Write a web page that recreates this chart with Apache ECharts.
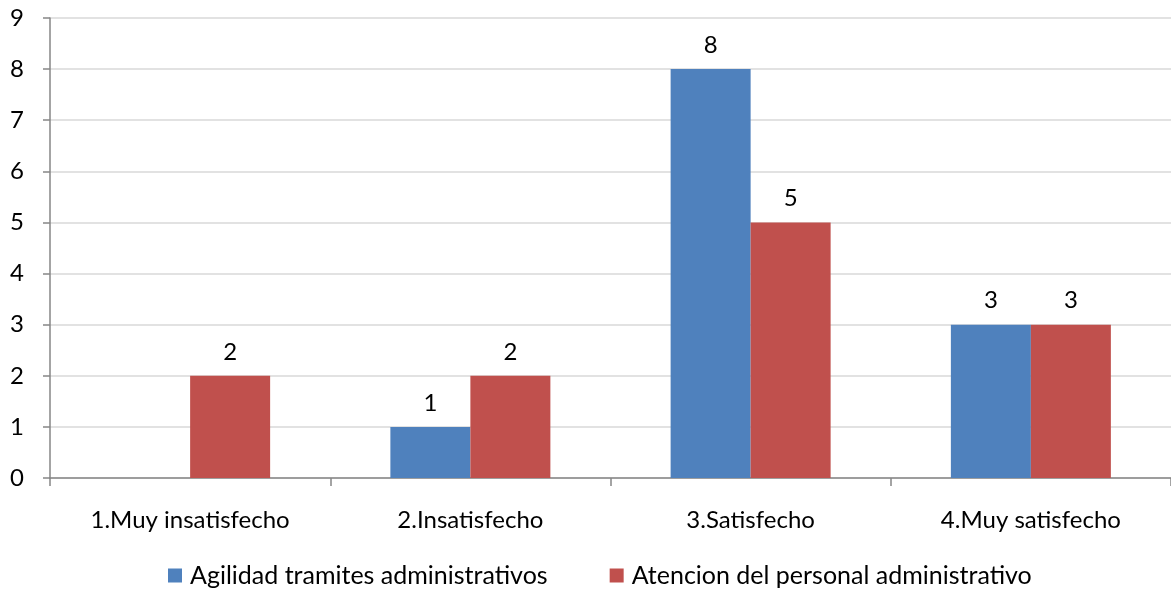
<!DOCTYPE html>
<html><head><meta charset="utf-8">
<script src="https://cdn.jsdelivr.net/npm/echarts@6/dist/echarts.min.js"></script>
<style>html,body{margin:0;padding:0;background:#fff}#c{width:1171px;height:604px}</style>
</head><body><div id="c"></div>
<script>
const categories = ['1.Muy insatisfecho','2.Insatisfecho','3.Satisfecho','4.Muy satisfecho'];
const seriesNames = ['Agilidad tramites administrativos','Atencion del personal administrativo'];
const agilidad = [null, 1, 8, 3];
const atencion = [2, 2, 5, 3];
const yTicks = {min: 0, max: 9, interval: 1};

const font = 'Lato, "Open Sans", sans-serif';
const fs = 24;
const chart = echarts.init(document.getElementById('c'));
const lbl = {show: true, position: 'top', distance: 12, color: '#000', fontSize: fs, fontFamily: font};
chart.setOption({
  animation: false,
  textStyle: {fontFamily: font},
  grid: {left: 50, right: -3, top: 18, bottom: 126, containLabel: false},
  legend: {
    bottom: 11, left: 163, itemWidth: 14, itemHeight: 14, itemGap: 62,
    icon: 'rect',
    textStyle: {fontSize: 25, color: '#000', fontFamily: font, padding: [0, 0, 0, 3]},
    data: seriesNames
  },
  xAxis: {
    type: 'category', data: categories,
    axisLine: {lineStyle: {color: '#868686', width: 1.5}},
    axisTick: {show: true, length: 8, lineStyle: {color: '#868686', width: 1.5}},
    axisLabel: {color: '#000', fontSize: fs, margin: 30, fontFamily: font}
  },
  yAxis: {
    type: 'value', min: yTicks.min, max: yTicks.max, interval: yTicks.interval,
    axisLine: {show: true, lineStyle: {color: '#868686', width: 1.5}},
    axisTick: {show: true, length: 7, lineStyle: {color: '#868686', width: 1.5}},
    axisLabel: {color: '#000', fontSize: fs, margin: 26, fontFamily: font},
    splitLine: {lineStyle: {color: '#d9d9d9', width: 1.5}}
  },
  series: [
    {name: seriesNames[0], type: 'bar', data: agilidad, barWidth: 80, barGap: '0%',
     itemStyle: {color: '#4f81bd'}, label: lbl},
    {name: seriesNames[1], type: 'bar', data: atencion, barWidth: 80, barGap: '0%',
     itemStyle: {color: '#c0504d'}, label: lbl}
  ]
});
</script></body></html>
